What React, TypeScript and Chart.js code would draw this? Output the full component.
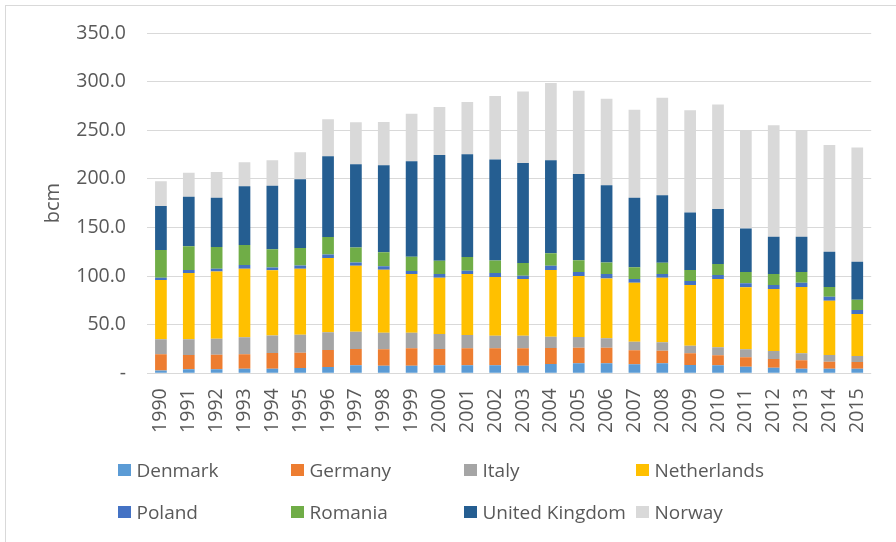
import React, { useEffect, useRef } from 'react';
import { Chart, registerables } from 'chart.js';

Chart.register(...registerables);

const years = ['1990', '1991', '1992', '1993', '1994', '1995', '1996', '1997', '1998', '1999', '2000', '2001', '2002', '2003', '2004', '2005', '2006', '2007', '2008', '2009', '2010', '2011', '2012', '2013', '2014', '2015'];

const denmark = [3.0, 4.2, 4.1, 4.7, 4.7, 5.4, 6.5, 8.2, 7.8, 7.8, 8.2, 8.2, 8.2, 7.8, 9.6, 10.3, 10.3, 9.2, 10.4, 8.5, 8.2, 6.8, 5.8, 4.7, 4.7, 4.7];
const germany = [16.5, 14.6, 15.0, 14.8, 16.2, 15.8, 17.4, 16.8, 16.9, 17.9, 16.8, 17.5, 17.5, 17.9, 16.4, 16.0, 16.0, 14.4, 12.8, 12.1, 10.3, 9.6, 8.9, 8.7, 7.2, 6.9];
const italy = [15.4, 16.1, 16.5, 17.5, 18.1, 18.5, 18.2, 17.8, 17.0, 16.0, 15.4, 13.7, 13.0, 13.0, 11.6, 11.0, 9.7, 8.9, 8.7, 7.8, 8.2, 8.3, 8.2, 7.2, 6.9, 6.2];
const netherlands = [61.0, 68.2, 69.2, 70.5, 66.9, 67.8, 76.4, 67.8, 64.8, 60.4, 57.9, 62.7, 60.3, 58.2, 68.6, 62.7, 61.6, 60.6, 66.4, 62.4, 70.2, 63.7, 63.7, 68.1, 55.8, 43.1];
const poland = [2.4, 3.1, 2.7, 3.8, 3.0, 3.5, 3.8, 3.4, 3.5, 3.0, 3.8, 3.4, 4.1, 3.4, 4.4, 4.1, 4.5, 3.8, 3.8, 4.1, 4.1, 4.1, 4.2, 4.4, 4.1, 4.2];
const romania = [28.4, 24.6, 22.3, 20.6, 18.8, 17.8, 17.8, 15.5, 14.4, 14.7, 13.6, 14.0, 13.0, 13.1, 13.0, 12.3, 11.9, 12.3, 11.6, 11.3, 11.3, 11.6, 11.3, 11.0, 10.0, 10.5];
const unitedKingdom = [45.3, 50.7, 50.7, 60.6, 65.1, 70.7, 83.2, 85.6, 89.7, 98.4, 108.7, 105.9, 103.8, 102.9, 95.6, 88.5, 79.5, 71.3, 69.5, 59.3, 56.6, 44.9, 38.3, 36.3, 36.3, 39.1];
const norway = [25.6, 24.7, 26.5, 24.5, 26.2, 27.9, 38.1, 43.1, 44.4, 48.8, 49.4, 53.7, 65.4, 73.5, 79.5, 85.6, 88.8, 90.6, 100.1, 105.0, 107.6, 100.3, 114.8, 108.9, 109.7, 117.6];

const seriesNames = ['Denmark', 'Germany', 'Italy', 'Netherlands', 'Poland', 'Romania', 'United Kingdom', 'Norway'];
const seriesValues = [denmark, germany, italy, netherlands, poland, romania, unitedKingdom, norway];
const seriesColors = ['#5B9BD5', '#ED7D31', '#A5A5A5', '#FFC000', '#4472C4', '#70AD47', '#255E91', '#D9D9D9'];

const legendRows = [[0, 1, 2, 3], [4, 5, 6, 7]];
const legendCols = [118, 291, 464, 636];
const legendRowY = [470, 512];

const FONT = "'Open Sans', 'Noto Sans', sans-serif";
const TEXT = '#595959';

export default function App() {
  const ref = useRef<HTMLCanvasElement>(null);

  useEffect(() => {
    if (!ref.current) return;
    const chart = new Chart(ref.current, {
      type: 'bar',
      data: {
        labels: years,
        datasets: seriesNames.map((name, i) => ({
          label: name,
          data: seriesValues[i],
          backgroundColor: seriesColors[i],
          borderWidth: 0,
          barPercentage: 0.42,
          categoryPercentage: 1,
          stack: 'gas',
        })),
      },
      options: {
        responsive: false,
        animation: false,
        layout: { padding: { left: 0, right: 17, top: 33, bottom: 0 } },
        plugins: { legend: { display: false }, tooltip: { enabled: false } },
        scales: {
          x: {
            stacked: true,
            grid: { display: false, drawTicks: false },
            border: { display: false },
            ticks: {
              minRotation: 90,
              maxRotation: 90,
              autoSkip: false,
              padding: 15,
              color: TEXT,
              font: { family: FONT, size: 19.5 },
            },
            afterFit: (s: any) => {
              s.height = 168.7;
            },
          },
          y: {
            stacked: true,
            min: 0,
            max: 350,
            ticks: {
              stepSize: 50,
              padding: 21,
              color: TEXT,
              font: { family: FONT, size: 19.5 },
              callback: (v: any) => (Number(v) === 0 ? '-' : Number(v).toFixed(1)),
            },
            grid: { color: '#D9D9D9', lineWidth: 1, drawTicks: false },
            border: { display: false },
            title: {
              display: true,
              text: 'bcm',
              color: TEXT,
              font: { family: FONT, size: 20 },
              padding: { top: 41, bottom: 0 },
            },
            afterFit: (s: any) => {
              s.width = 147;
            },
          },
        },
      },
    });
    return () => chart.destroy();
  }, []);

  return (
    <div style={{ position: 'fixed', left: 0, top: 0, width: 896, height: 542, background: '#fff', overflow: 'hidden' }}>
      <div style={{ position: 'absolute', left: 5, top: 5, width: 900, height: 545, borderLeft: '1px solid #D9D9D9', borderTop: '1px solid #D9D9D9' }} />
      <canvas ref={ref} width={896} height={542} style={{ position: 'absolute', left: 0, top: 0, width: 896, height: 542 }} />
      {legendRows.map((row, r) =>
        row.map((idx, c) => (
          <div
            key={idx}
            style={{
              position: 'absolute',
              left: legendCols[c],
              top: legendRowY[r] - 15,
              height: 30,
              display: 'flex',
              alignItems: 'center',
              whiteSpace: 'nowrap',
              fontFamily: FONT,
              fontSize: 19,
              color: TEXT,
            }}
          >
            <span style={{ display: 'inline-block', width: 12.5, height: 12.5, background: seriesColors[idx], marginRight: 6 }} />
            <span>{seriesNames[idx]}</span>
          </div>
        ))
      )}
    </div>
  );
}
